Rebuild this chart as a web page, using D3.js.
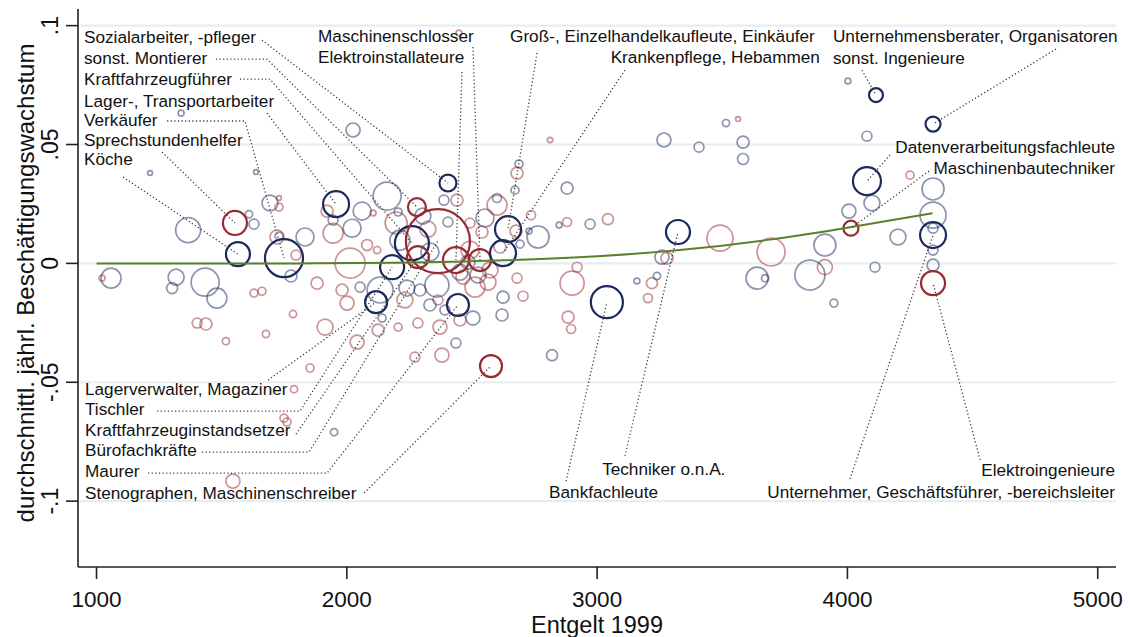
<!DOCTYPE html>
<html><head><meta charset="utf-8">
<script src="https://cdn.jsdelivr.net/npm/d3@7"></script>
<style>body{margin:0;background:#fff}svg text{font-family:"Liberation Sans",Arial,sans-serif}</style>
</head><body><svg id="c" width="1130" height="637"></svg>
<script>
// ---- beschriftete Berufe ----
const berufe = ["Sozialarbeiter, -pfleger","sonst. Montierer","Kraftfahrzeugführer","Lager-, Transportarbeiter","Verkäufer","Sprechstundenhelfer","Köche","Maschinenschlosser","Elektroinstallateure","Groß-, Einzelhandelkaufleute, Einkäufer","Krankenpflege, Hebammen","Unternehmensberater, Organisatoren","sonst. Ingenieure","Datenverarbeitungsfachleute","Maschinenbautechniker","Lagerverwalter, Magaziner","Tischler","Kraftfahrzeuginstandsetzer","Bürofachkräfte","Maurer","Stenographen, Maschinenschreiber","Techniker o.n.A.","Bankfachleute","Elektroingenieure","Unternehmer, Geschäftsführer, -bereichsleiter"];
const berufEntgelt = [2404,2280,2260,1957,1749,1553,1565,2532,2436,2644,2624,4342,4114,4078,4014,2117,2181,2284,2364,2444,2576,3323,3039,4342,4342];
const berufWachstum = [0.0338,0.0237,0.0085,0.0249,0.0022,0.0170,0.0039,0.0014,0.0014,0.0144,0.0043,0.0586,0.0708,0.0346,0.0148,-0.0163,-0.0016,0.0026,0.0094,-0.0175,-0.0432,0.0132,-0.0163,-0.0083,0.0119];
const berufBeschaeftigte = [50,56,201,117,251,100,100,84,117,117,117,39,34,136,39,84,100,84,711,84,84,100,178,100,117];
const berufGruppe = [1,2,1,1,1,2,1,2,2,1,1,1,1,1,2,1,1,2,2,1,2,1,1,2,1];

// ---- uebrige Berufe ----
const entgelt = [1058,1022,1318,1302,1338,1214,1366,1434,1481,1402,1437,1517,1629,1661,1677,1785,1637,1693,1729,1729,1609,1629,1721,1729,1833,1797,1777,1881,1913,1853,2041,2025,1921,1945,1945,2021,2061,2161,2105,2013,2081,2121,1981,2001,2053,2133,2141,2125,2205,1789,1749,1761,1949,1545,2388,2440,2304,2197,2404,2240,2360,2364,2372,2284,2272,2380,2436,2504,2452,2464,2552,2600,2600,2492,2540,2572,2564,2612,2676,2680,2704,2624,2620,2764,2728,2736,2692,2688,2680,2672,2880,2880,2848,2972,3043,2900,2920,2884,2896,2820,3159,3219,3203,3239,3259,3279,3267,3407,3583,3583,3515,3563,4002,4078,4250,4342,4342,4342,4342,4342,4098,4006,4202,4110,3910,3910,3850,3946,3695,3639,3671,3491,2812,2448,2205,2212,2324,2332,2492,2484,2524,2512,2292,2232,2332,2392,2452];
const wachstum = [-0.0062,-0.0062,-0.0058,-0.0104,0.0632,0.0380,0.0140,-0.0079,-0.0146,-0.0251,-0.0255,-0.0327,-0.0125,-0.0117,-0.0297,-0.0213,0.0384,0.0254,0.0237,0.0275,0.0207,0.0165,0.0111,0.0115,0.0111,0.0035,-0.0053,-0.0083,-0.0268,-0.0440,-0.0331,0.0561,0.0220,0.0182,0.0127,0.0148,0.0220,0.0283,0.0212,0.0001,0.0077,0.0056,-0.0112,-0.0167,-0.0100,-0.0112,-0.0230,-0.0281,-0.0268,-0.0529,-0.0651,-0.0667,-0.0710,-0.0916,0.0266,0.0266,0.0199,0.0170,0.0174,-0.0104,-0.0091,-0.0154,-0.0268,-0.0251,-0.0394,-0.0386,-0.0335,-0.0230,-0.0037,-0.0058,0.0191,0.0245,0.0275,0.0170,0.0132,-0.0028,-0.0079,0.0069,0.0136,-0.0062,-0.0138,-0.0142,-0.0217,0.0111,0.0136,0.0203,0.0081,0.0418,0.0380,0.0308,0.0317,0.0174,0.0161,0.0165,0.0186,-0.0083,-0.0016,-0.0226,-0.0276,-0.0386,-0.0074,-0.0083,-0.0146,-0.0053,0.0026,0.0022,0.0519,0.0489,0.0510,0.0439,0.0590,0.0607,0.0767,0.0535,0.0371,0.0313,0.0203,0.0148,0.0056,-0.0007,0.0254,0.0220,0.0111,-0.0016,0.0077,-0.0016,-0.0049,-0.0167,0.0048,-0.0062,-0.0062,0.0106,0.0519,0.0969,0.0216,0.0098,0.0144,0.0048,0.0056,0.0005,-0.0049,-0.0100,-0.0112,-0.0154,-0.0175,-0.0196,-0.0238];
const beschaeftigte = [69,6,44,21,6,4,108,136,69,17,25,9,11,11,9,9,4,44,11,4,9,17,34,11,56,17,25,25,44,11,34,34,25,17,69,56,56,136,6,156,21,9,25,34,17,117,11,25,11,9,11,11,9,34,17,25,44,84,17,44,100,17,34,17,17,34,17,34,44,34,56,69,14,17,25,44,44,25,25,17,17,25,25,84,6,14,11,11,25,11,25,14,6,17,21,100,17,25,14,21,6,21,14,9,34,25,34,17,25,21,9,4,6,17,11,84,117,17,17,25,44,34,44,17,84,39,156,11,136,84,9,117,5,6,11,69,44,56,56,34,44,69,25,44,25,17,25];
const gruppe = [1,2,1,1,1,1,1,1,1,2,2,2,2,2,2,2,1,1,2,2,1,1,2,1,1,2,1,2,2,2,2,1,2,1,2,1,1,1,2,2,2,2,2,2,1,1,1,2,2,2,2,2,1,2,1,2,1,2,1,1,1,2,2,2,2,2,1,1,1,2,1,2,1,2,2,2,2,2,2,2,2,1,1,1,1,2,1,1,2,1,1,2,1,1,2,2,2,2,2,1,1,2,2,1,1,2,1,1,1,1,1,2,1,1,2,1,1,1,1,1,1,1,1,1,1,2,1,1,2,1,1,2,2,2,1,1,2,1,2,1,1,2,1,2,1,1,2];

// ---- Anpassungskurve ----
const fitEntgelt = [1000,1800,2200,2600,3000,3330,3690,4010,4340];
const fitWachstum = [0.0000,0.0000,0.0003,0.0012,0.0030,0.0056,0.0100,0.0152,0.0211];

// ---- Achsen ----
const xTicks = [1000,2000,3000,4000,5000];
const yTicks = [-0.1,-0.05,0,0.05,0.1];
const yTickLabels = ["-.1","-.05","0",".05",".1"];

// ---- Beschriftungslage (Datenkoordinaten) ----
const labelX = [950,950,950,950,950,950,950,1885,1885,2652,3890,3942,3942,5069,5069,954,954,954,954,954,954,3020,2808,5069,5069];
const labelY = [0.0952,0.0866,0.0775,0.0685,0.0603,0.0521,0.0439,0.0956,0.0868,0.0956,0.0868,0.0956,0.0864,0.0489,0.0401,-0.0529,-0.0613,-0.0701,-0.0785,-0.0874,-0.0966,-0.0865,-0.0962,-0.0870,-0.0962];
const labelAnchor = ["start","start","start","start","start","start","start","start","start","start","end","start","start","end","end","start","start","start","start","start","start","start","start","end","end"];
const leaderWeg = [
 [[1661,0.0939]],[[1477,0.0859],[1681,0.0859]],[[1573,0.0775],[1693,0.0775]],[[1681,0.0632]],
 [[1282,0.0599],[1593,0.0599]],[[1262,0.0468]],[[1106,0.0363]],[[2504,0.0910]],[[2460,0.0805]],
 [[2760,0.0885]],[[3111,0.0813]],[[4833,0.0901]],[[4058,0.0813]],[[4170,0.0456]],[[4326,0.0388]],
 [[1685,-0.0491]],[[1242,-0.0621],[1813,-0.0621]],[[1797,-0.0718]],[[1421,-0.0794],[1849,-0.0794]],
 [[1206,-0.0882],[1921,-0.0882]],[[2069,-0.0966]],[[3111,-0.0810]],[[2876,-0.0916]],[[4530,-0.0827]],[[4010,-0.0907]]
];

const svg = d3.select("#c");
const x = d3.scaleLinear().domain([926,5073]).range([78,1116]);
const y = d3.scaleLinear().domain([-0.1277,0.1070]).range([567,9]);
const r = d3.scaleSqrt().domain([0,711]).range([0,32]);
const dark = {1:"#1b2a5c",2:"#982a30"};

// grid
svg.append("g").selectAll("line").data(yTicks).join("line")
  .attr("x1",78).attr("x2",1116).attr("y1",d=>y(d)).attr("y2",d=>y(d))
  .attr("stroke","#e6eef0").attr("stroke-width",2.2);

// unlabeled circles
const pts = entgelt.map((e,i)=>({e,w:wachstum[i],b:beschaeftigte[i],g:gruppe[i]}));
svg.append("g").selectAll("circle").data(pts).join("circle")
  .attr("cx",d=>x(d.e)).attr("cy",d=>y(d.w)).attr("r",d=>r(d.b))
  .attr("fill","none").attr("stroke",d=>dark[d.g]).attr("stroke-opacity",0.5).attr("stroke-width",1.7);

// labeled circles
const lab = berufe.map((n,i)=>({n,e:berufEntgelt[i],w:berufWachstum[i],b:berufBeschaeftigte[i],g:berufGruppe[i],
  lx:labelX[i],ly:labelY[i],a:labelAnchor[i],weg:leaderWeg[i]}));
svg.append("g").selectAll("circle").data(lab).join("circle")
  .attr("cx",d=>x(d.e)).attr("cy",d=>y(d.w)).attr("r",d=>r(d.b))
  .attr("fill","none").attr("stroke",d=>dark[d.g]).attr("stroke-width",2.2);

// fit line
svg.append("path").datum(fitEntgelt.map((e,i)=>[e,fitWachstum[i]]))
  .attr("d",d3.line().x(d=>x(d[0])).y(d=>y(d[1])).curve(d3.curveMonotoneX))
  .attr("fill","none").attr("stroke","#5c7f2c").attr("stroke-width",2);

// leaders
svg.append("g").selectAll("path").data(lab).join("path")
  .attr("d",d=>d3.line()(d.weg.concat([[d.e,d.w]]).map(p=>[x(p[0]),y(p[1])])))
  .attr("fill","none").attr("stroke","#3a3a3a").attr("stroke-width",1.3).attr("stroke-dasharray","1.2,2.4");

// labels
svg.append("g").selectAll("text").data(lab).join("text")
  .attr("x",d=>x(d.lx)).attr("y",d=>y(d.ly)).attr("dy","0.36em")
  .attr("text-anchor",d=>d.a).attr("font-size",17.2).attr("fill","#111").text(d=>d.n);

// axes
const ax = svg.append("g").attr("stroke","#222");
ax.append("line").attr("x1",78).attr("x2",78).attr("y1",9).attr("y2",567).attr("stroke-width",1.6);
ax.append("line").attr("x1",78).attr("x2",1116).attr("y1",567).attr("y2",567).attr("stroke-width",1.6);
ax.selectAll(".yt").data(yTicks).join("line").attr("x1",66).attr("x2",78).attr("y1",d=>y(d)).attr("y2",d=>y(d)).attr("stroke-width",1.6);
ax.selectAll(".xt").data(xTicks).join("line").attr("y1",567).attr("y2",579).attr("x1",d=>x(d)).attr("x2",d=>x(d)).attr("stroke-width",1.6);

svg.append("g").selectAll("text").data(yTicks).join("text")
  .attr("transform",(d)=>`translate(58,${y(d)}) rotate(-90)`).attr("text-anchor","middle")
  .attr("font-size",23).attr("fill","#111").text((d,i)=>yTickLabels[i]);
svg.append("g").selectAll("text").data(xTicks).join("text")
  .attr("x",d=>x(d)).attr("y",607).attr("text-anchor","middle")
  .attr("font-size",22.5).attr("fill","#111").text(d=>d);

svg.append("text").attr("x",597).attr("y",633).attr("text-anchor","middle").attr("font-size",23.5).attr("fill","#111").text("Entgelt 1999");
svg.append("text").attr("transform","translate(34,283) rotate(-90)").attr("text-anchor","middle").attr("font-size",24).attr("fill","#111").text("durchschnittl. jährl. Beschäftigungswachstum");
</script></body></html>
